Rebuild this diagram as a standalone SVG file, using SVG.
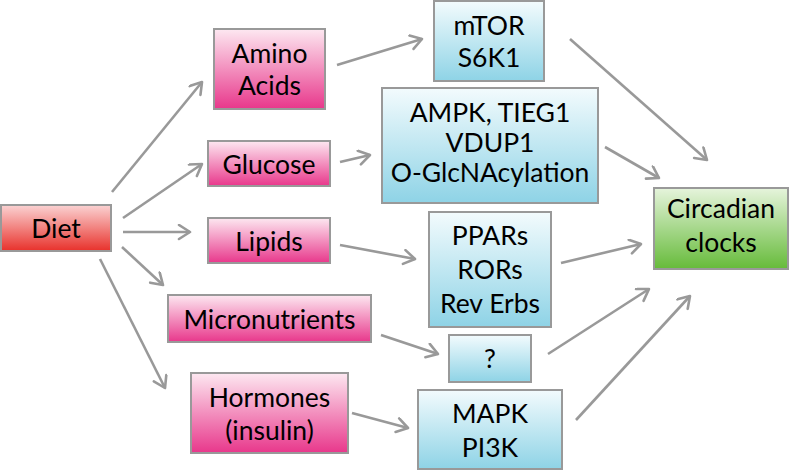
<svg xmlns="http://www.w3.org/2000/svg" width="789" height="471" viewBox="0 0 789 471">
<defs>
<linearGradient id="gRed" x1="0" y1="0" x2="0" y2="1"><stop offset="0" stop-color="#fbd3d3"/><stop offset="1" stop-color="#e8312b"/></linearGradient>
<linearGradient id="gPink" x1="0" y1="0" x2="0" y2="1"><stop offset="0" stop-color="#fde8f1"/><stop offset="1" stop-color="#e8378b"/></linearGradient>
<linearGradient id="gBlue" x1="0" y1="0" x2="0" y2="1"><stop offset="0" stop-color="#f3fbfd"/><stop offset="1" stop-color="#8ed3e6"/></linearGradient>
<linearGradient id="gGreen" x1="0" y1="0" x2="0" y2="1"><stop offset="0" stop-color="#e6f4dc"/><stop offset="1" stop-color="#66bb3a"/></linearGradient>
<marker id="arr" markerUnits="userSpaceOnUse" markerWidth="20" markerHeight="20" refX="13" refY="8" orient="auto" viewBox="0 0 20 20">
<path d="M2,1 L13,8 L2,15" fill="none" stroke="#999" stroke-width="2.6" stroke-linecap="round" stroke-linejoin="round"/>
</marker>
</defs>
<style>
.box{stroke:#999;stroke-width:2}
.t{font-family:Lato,"Open Sans","Liberation Sans",sans-serif;font-size:26.5px;fill:#000;text-anchor:middle}
.c{fill:none;stroke:#999;stroke-width:2.6;marker-end:url(#arr)}
</style>
<rect width="789" height="471" fill="#fff"/>
<g id="connectors">
<line class="c" x1="112" y1="192" x2="202" y2="82"/>
<line class="c" x1="123" y1="218" x2="202" y2="164"/>
<line class="c" x1="123" y1="232" x2="190" y2="232"/>
<line class="c" x1="122" y1="247" x2="163" y2="285"/>
<line class="c" x1="100" y1="259" x2="165" y2="388"/>
<line class="c" x1="337" y1="65" x2="422" y2="39"/>
<line class="c" x1="340" y1="162" x2="370" y2="155"/>
<line class="c" x1="340" y1="245" x2="415" y2="259"/>
<line class="c" x1="381" y1="335" x2="438" y2="354"/>
<line class="c" x1="352" y1="413" x2="408" y2="428"/>
<line class="c" x1="570" y1="39" x2="707" y2="160"/>
<line class="c" x1="605" y1="147" x2="659" y2="178"/>
<line class="c" x1="561" y1="263" x2="641" y2="244"/>
<line class="c" x1="548" y1="354" x2="649" y2="289"/>
<line class="c" x1="576" y1="420" x2="690" y2="296"/>
</g>
<g id="diet"><rect class="box" x="1" y="205" width="110" height="46" fill="url(#gRed)"/><text class="t" x="56" y="238">Diet</text></g>
<g id="amino"><rect class="box" x="214" y="29" width="111" height="80" fill="url(#gPink)"/><text class="t" x="269.5" y="63">Amino</text><text class="t" x="269.5" y="95">Acids</text></g>
<g id="glucose"><rect class="box" x="208" y="141" width="122" height="45" fill="url(#gPink)"/><text class="t" x="269" y="174">Glucose</text></g>
<g id="lipids"><rect class="box" x="208" y="218" width="122" height="45" fill="url(#gPink)"/><text class="t" x="269" y="251">Lipids</text></g>
<g id="micronutrients"><rect class="box" x="168" y="295" width="203" height="47" fill="url(#gPink)"/><text class="t" x="269.5" y="329">Micronutrients</text></g>
<g id="hormones"><rect class="box" x="191" y="373" width="157" height="80" fill="url(#gPink)"/><text class="t" x="269.5" y="407">Hormones</text><text class="t" x="269.5" y="440">(insulin)</text></g>
<g id="mtor"><rect class="box" x="434" y="1" width="110" height="80" fill="url(#gBlue)"/><text class="t" x="489" y="35">mTOR</text><text class="t" x="489" y="67">S6K1</text></g>
<g id="ampk"><rect class="box" x="382" y="88" width="216" height="115" fill="url(#gBlue)"/><text class="t" x="490" y="122">AMPK, TIEG1</text><text class="t" x="490" y="152">VDUP1</text><text class="t" x="490" y="182">O-GlcNAcylation</text></g>
<g id="ppars"><rect class="box" x="429" y="212" width="122" height="115" fill="url(#gBlue)"/><text class="t" x="490" y="245">PPARs</text><text class="t" x="490" y="279">RORs</text><text class="t" x="490" y="313">Rev Erbs</text></g>
<g id="unknown"><rect class="box" x="449" y="335" width="82" height="47" fill="url(#gBlue)"/><text class="t" x="490" y="368">?</text></g>
<g id="mapk"><rect class="box" x="418" y="390" width="144" height="79" fill="url(#gBlue)"/><text class="t" x="490" y="423">MAPK</text><text class="t" x="490" y="457">PI3K</text></g>
<g id="circadian"><rect class="box" x="654" y="188" width="134" height="81" fill="url(#gGreen)"/><text class="t" x="721" y="218">Circadian</text><text class="t" x="721" y="252">clocks</text></g>
</svg>
